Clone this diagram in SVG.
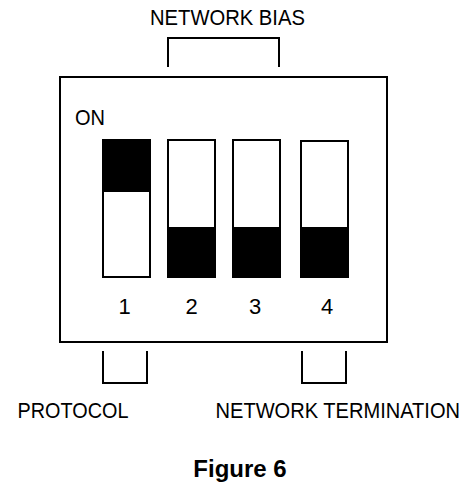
<svg xmlns="http://www.w3.org/2000/svg" width="471" height="494" viewBox="0 0 471 494">
<style>
.t{font-family:"Liberation Sans",Arial,sans-serif;font-size:22px;fill:#000}
.b{font-family:"Liberation Sans",Arial,sans-serif;font-size:24px;font-weight:bold;fill:#000}
.ln{fill:none;stroke:#000;stroke-width:2}
.sw{fill:#fff;stroke:#000;stroke-width:2}
.blk{fill:#000}
</style>
<rect width="471" height="494" fill="#fff"/>
<g id="body">
<rect class="ln" x="60" y="77" width="327" height="265"/>
<text class="t" transform="translate(75,124.5) scale(0.91,1)">ON</text>
</g>
<g id="switch1">
<rect class="sw" x="103" y="140" width="47" height="137"/>
<rect class="blk" x="103" y="140" width="47" height="52"/>
<text class="t" x="124.5" y="313.5" text-anchor="middle">1</text>
</g>
<g id="switch2">
<rect class="sw" x="168" y="140" width="47" height="137"/>
<rect class="blk" x="168" y="227" width="47" height="50"/>
<text class="t" x="191.5" y="313.5" text-anchor="middle">2</text>
</g>
<g id="switch3">
<rect class="sw" x="233" y="140" width="47" height="137"/>
<rect class="blk" x="233" y="227" width="47" height="50"/>
<text class="t" x="255" y="313.5" text-anchor="middle">3</text>
</g>
<g id="switch4">
<rect class="sw" x="301" y="141" width="47" height="136"/>
<rect class="blk" x="301" y="227" width="47" height="50"/>
<text class="t" x="327" y="313.5" text-anchor="middle">4</text>
</g>
<g id="connectors">
<polyline class="ln" points="168,67 168,38 279,38 279,67"/>
<polyline class="ln" points="103,351 103,383 147,383 147,351"/>
<polyline class="ln" points="302,351 302,383 346,383 346,351"/>
</g>
<g id="labels">
<text class="t" transform="translate(150,24.5) scale(0.919,1)">NETWORK BIAS</text>
<text class="t" transform="translate(17.5,417.5) scale(0.902,1)">PROTOCOL</text>
<text class="t" transform="translate(215.5,417.5) scale(0.913,1)">NETWORK TERMINATION</text>
<text class="b" x="240" y="476.5" text-anchor="middle">Figure 6</text>
</g>
</svg>
